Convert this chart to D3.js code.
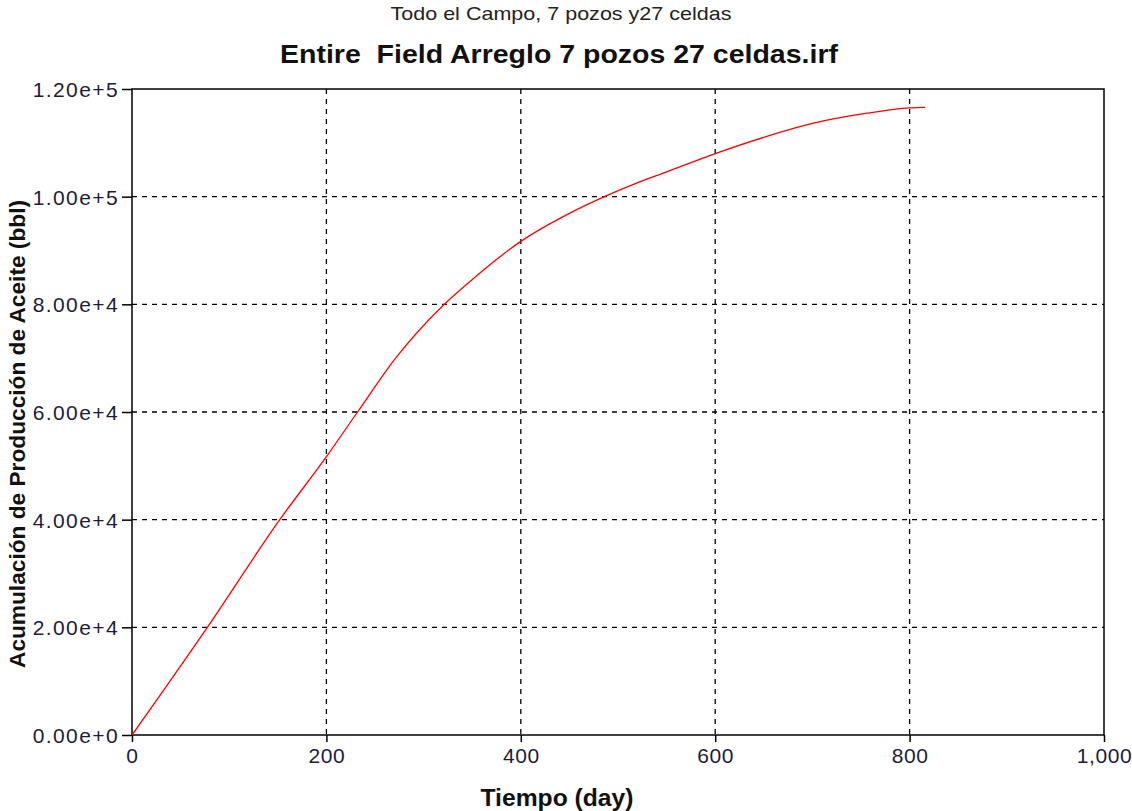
<!DOCTYPE html>
<html>
<head>
<meta charset="utf-8">
<script src="https://cdn.jsdelivr.net/npm/d3@7"></script>
<style>
  body { margin: 0; background: #fff; }
  svg { display: block; font-family: Arial, "Liberation Sans", sans-serif; }
  .tick text { fill: #1c1c3a; font-size: 21px; letter-spacing: 1.4px; }
  .grid line { stroke: #000; stroke-dasharray: 5,5; stroke-width: 1.3; }
</style>
</head>
<body>
<div id="chart"></div>
<script>
// cumulative oil production vs time
const days = [0, 77.5, 152, 200, 232, 272, 320, 348, 400, 450, 486, 519, 550, 600, 653, 700, 756, 800, 816];
const oil = [0, 20000, 40000, 51700, 60000, 70200, 79800, 84300, 91700, 96900, 100000, 102500, 104600, 108000, 111200, 113600, 115500, 116500, 116600];
const xTicks = [0, 200, 400, 600, 800, 1000];
const yTicks = [0, 20000, 40000, 60000, 80000, 100000, 120000];

const subtitle = 'Todo el Campo, 7 pozos y27 celdas';
const title = 'Entire  Field Arreglo 7 pozos 27 celdas.irf';
const xLabel = 'Tiempo (day)';
const yLabel = 'Acumulación de Producción de Aceite (bbl)';

const W = 1132, H = 811;
const margin = { top: 89, right: 28, bottom: 76, left: 132 };
const width = W - margin.left - margin.right;
const height = H - margin.top - margin.bottom;

const svg = d3.select('#chart').append('svg')
  .attr('width', W)
  .attr('height', H);

const x = d3.scaleLinear().domain([0, 1000]).range([0, width]);
const y = d3.scaleLinear().domain([0, 120000]).range([height, 0]);

const g = svg.append('g')
  .attr('transform', `translate(${margin.left}, ${margin.top})`);

// dashed grid
g.append('g').attr('class', 'grid')
  .selectAll('line.v')
  .data(xTicks.slice(1, -1))
  .enter().append('line')
  .attr('x1', d => x(d)).attr('x2', d => x(d))
  .attr('y1', 0).attr('y2', height);

g.append('g').attr('class', 'grid')
  .selectAll('line.h')
  .data(yTicks.slice(1, -1))
  .enter().append('line')
  .attr('x1', 0).attr('x2', width)
  .attr('y1', d => y(d)).attr('y2', d => y(d));

// frame
g.append('rect')
  .attr('width', width).attr('height', height)
  .attr('fill', 'none').attr('stroke', '#000').attr('stroke-width', 1.5);

const xAxis = g.append('g')
  .attr('transform', `translate(0, ${height})`)
  .call(d3.axisBottom(x).tickValues(xTicks).tickFormat(d3.format(',')).tickSize(7).tickPadding(6));
const yAxis = g.append('g')
  .call(d3.axisLeft(y).tickValues(yTicks).tickFormat(d3.format('.2e')).tickSize(10).tickPadding(3));
[xAxis, yAxis].forEach(a => {
  a.select('.domain').remove();
  a.selectAll('.tick line').attr('stroke', '#000').attr('stroke-width', 1.5);
  a.selectAll('.tick text').style('font-family', 'Arial, "Liberation Sans", sans-serif');
});
yAxis.selectAll('.tick text').attr('dy', '0.36em');
// keep "1,000" inside the window
xAxis.selectAll('.tick text').style('letter-spacing', '0.6px');

// curve
const line = d3.line()
  .x((d, i) => x(days[i]))
  .y(d => y(d))
  .curve(d3.curveMonotoneX);

g.append('path')
  .datum(oil)
  .attr('fill', 'none')
  .attr('stroke', '#ff0000')
  .attr('stroke-width', 1.3)
  .attr('d', line);

// titles
svg.append('text')
  .attr('x', 561).attr('y', 20)
  .attr('text-anchor', 'middle')
  .attr('textLength', 341)
  .attr('lengthAdjust', 'spacingAndGlyphs')
  .style('font-size', '19px')
  .attr('fill', '#222')
  .text(subtitle);

svg.append('text')
  .attr('x', 559).attr('y', 63)
  .attr('text-anchor', 'middle')
  .attr('textLength', 558)
  .attr('lengthAdjust', 'spacingAndGlyphs')
  .style('font-size', '25px')
  .style('font-weight', 'bold')
  .attr('fill', '#111')
  .attr('xml:space', 'preserve')
  .style('white-space', 'pre')
  .text(title);

svg.append('text')
  .attr('x', 557).attr('y', 806)
  .attr('text-anchor', 'middle')
  .attr('textLength', 153)
  .attr('lengthAdjust', 'spacingAndGlyphs')
  .style('font-size', '23px')
  .style('font-weight', 'bold')
  .attr('fill', '#111')
  .text(xLabel);

svg.append('text')
  .attr('transform', 'translate(25, 434) rotate(-90)')
  .attr('text-anchor', 'middle')
  .attr('textLength', 468)
  .attr('lengthAdjust', 'spacingAndGlyphs')
  .style('font-size', '22px')
  .style('font-weight', 'bold')
  .attr('fill', '#111')
  .text(yLabel);
</script>
</body>
</html>
